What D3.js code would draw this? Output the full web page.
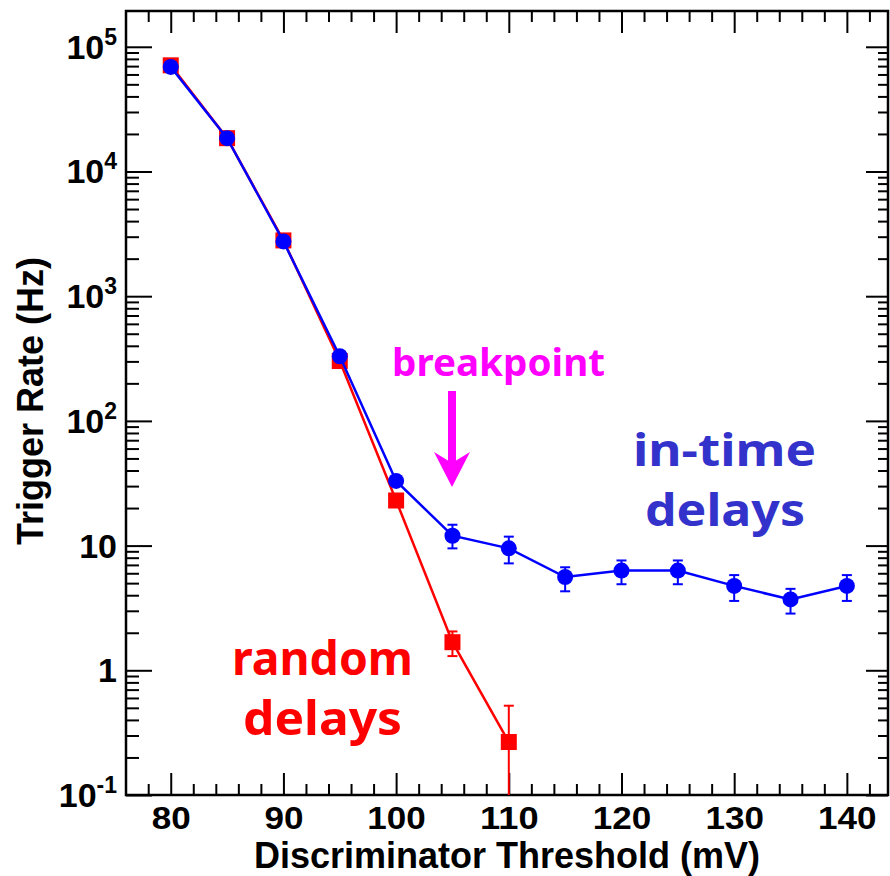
<!DOCTYPE html>
<html>
<head>
<meta charset="utf-8">
<script src="https://cdn.jsdelivr.net/npm/d3@7"></script>
<style>
  html, body { margin: 0; padding: 0; background: #fff; }
  svg { display: block; }
  .lbl { font-family: "Liberation Sans", Arial, Helvetica, sans-serif; font-weight: bold; }
  .ann { font-family: "Comic Sans MS", "Noto Sans", "DejaVu Sans", sans-serif; font-weight: bold; }
</style>
</head>
<body>
<script>
// ---------------- data ----------------
const thresholds = [80, 85, 90, 95, 100, 105, 110, 115, 120, 125, 130, 135, 140];
const inTimeRate = [6.9e4, 1.85e4, 2.75e3, 330, 33, 12.0, 9.5, 5.6, 6.3, 6.3, 4.75, 3.7, 4.75];
const inTimeLo   = [6.9e4, 1.85e4, 2.75e3, 330, 33, 9.5, 7.2, 4.3, 4.9, 4.9, 3.6, 2.85, 3.6];
const inTimeHi   = [6.9e4, 1.85e4, 2.75e3, 330, 33, 14.7, 11.8, 6.7, 7.6, 7.6, 5.8, 4.5, 5.8];

const randomThresholds = [80, 85, 90, 95, 100, 105, 110];
const randomRate = [7.1e4, 1.85e4, 2.8e3, 302, 23, 1.68, 0.266];
const randomLo   = [7.1e4, 1.85e4, 2.8e3, 302, 23, 1.3, 0.01];
const randomHi   = [7.1e4, 1.85e4, 2.8e3, 302, 23, 2.05, 0.52];

const xMajorTicks = [80, 90, 100, 110, 120, 130, 140];
const yDecades = [0.1, 1, 10, 100, 1e3, 1e4, 1e5];
const yTickBase = ["10", "1", "10", "10", "10", "10", "10"];
const yTickExp  = ["-1", "", "", "2", "3", "4", "5"];

const xTitle = "Discriminator Threshold (mV)";
const yTitle = "Trigger Rate (Hz)";

// ---------------- layout ----------------
const W = 890, H = 876;
const L = 126, R = 888, T = 11, B = 795;

const x = d3.scaleLinear().domain([76.03, 143.65]).range([L, R]);
const y = d3.scaleLog().domain([0.1, Math.pow(10, 5.287)]).range([B, T]);

const svg = d3.select("body").append("svg").attr("width", W).attr("height", H);

svg.append("defs").append("clipPath").attr("id", "plotclip")
  .append("rect").attr("x", L).attr("y", T).attr("width", R - L).attr("height", B - T);

// minor ticks
const xMinor = d3.range(78, 143, 2).filter(v => v % 10 !== 0);
const yMinor = [];
for (let d = 0.1; d < 1e5 * 2; d *= 10) {
  for (let k = 2; k <= 9; k++) { const v = d * k; if (v < y.domain()[1]) yMinor.push(v); }
}

function styleAxis(g) {
  g.select(".domain").remove();
  g.selectAll(".tick line").attr("stroke", "#000").attr("stroke-width", 2);
}

// bottom axis
svg.append("g").attr("transform", `translate(0,${B})`)
  .call(d3.axisBottom(x).tickValues(xMinor).tickSize(-11).tickFormat("")).call(styleAxis);
const xAx = svg.append("g").attr("transform", `translate(0,${B})`)
  .call(d3.axisBottom(x).tickValues(xMajorTicks).tickSize(-22).tickFormat(d3.format("d"))).call(styleAxis);
xAx.selectAll(".tick text").attr("class", "lbl").attr("y", 34).attr("dy", 0)
  .attr("font-size", 31).attr("fill", "#000")
  .attr("textLength", d => String(d).length * 19.5).attr("lengthAdjust", "spacingAndGlyphs");
// top axis
svg.append("g").attr("transform", `translate(0,${T})`)
  .call(d3.axisTop(x).tickValues(xMinor).tickSize(-11).tickFormat("")).call(styleAxis);
svg.append("g").attr("transform", `translate(0,${T})`)
  .call(d3.axisTop(x).tickValues(xMajorTicks).tickSize(-22).tickFormat("")).call(styleAxis);
// left axis
svg.append("g").attr("transform", `translate(${L},0)`)
  .call(d3.axisLeft(y).tickValues(yMinor).tickSize(-13).tickFormat("")).call(styleAxis);
svg.append("g").attr("transform", `translate(${L},0)`)
  .call(d3.axisLeft(y).tickValues(yDecades).tickSize(-26).tickFormat("")).call(styleAxis);
// right axis
svg.append("g").attr("transform", `translate(${R},0)`)
  .call(d3.axisRight(y).tickValues(yMinor).tickSize(-10).tickFormat("")).call(styleAxis);
svg.append("g").attr("transform", `translate(${R},0)`)
  .call(d3.axisRight(y).tickValues(yDecades).tickSize(-22).tickFormat("")).call(styleAxis);

// y tick labels with superscripts
yDecades.forEach((v, i) => {
  const t = svg.append("text").attr("class", "lbl").attr("text-anchor", "end")
    .attr("x", 117).attr("y", y(v) + 12).attr("font-size", 34).attr("fill", "#000");
  t.append("tspan").text(yTickBase[i]);
  if (yTickExp[i]) {
    t.append("tspan").attr("font-size", 23).attr("dy", -14).text(yTickExp[i]);
  }
});

// frame
svg.append("rect").attr("x", L).attr("y", T).attr("width", R - L).attr("height", B - T)
  .attr("fill", "none").attr("stroke", "#000").attr("stroke-width", 2.5);

// axis titles
svg.append("text").attr("class", "lbl").attr("x", (L + R) / 2).attr("y", 868)
  .attr("text-anchor", "middle").attr("font-size", 36).attr("fill", "#000").text(xTitle);
svg.append("text").attr("class", "lbl")
  .attr("transform", `translate(43,545) rotate(-90)`)
  .attr("text-anchor", "start").attr("font-size", 36).attr("fill", "#000").text(yTitle);

// ---------------- data layers ----------------
const plot = svg.append("g").attr("clip-path", "url(#plotclip)");

const red = "#ff0000", blue = "#0000ff";
const redData = randomThresholds.map((t, i) => ({ t, v: randomRate[i], lo: randomLo[i], hi: randomHi[i] }));
const blueData = thresholds.map((t, i) => ({ t, v: inTimeRate[i], lo: inTimeLo[i], hi: inTimeHi[i] }));

const line = d3.line().x(d => x(d.t)).y(d => y(d.v));

function errorBars(data, color) {
  const g = plot.append("g").attr("stroke", color).attr("stroke-width", 2);
  data.filter(d => d.hi > d.v * 1.001 || d.lo < d.v * 0.999).forEach(d => {
    const cx = x(d.t);
    g.append("line").attr("x1", cx).attr("x2", cx).attr("y1", y(Math.max(d.lo, 1e-3))).attr("y2", y(d.hi));
    g.append("line").attr("x1", cx - 5).attr("x2", cx + 5).attr("y1", y(d.hi)).attr("y2", y(d.hi));
    if (d.lo > 0.1) g.append("line").attr("x1", cx - 5).attr("x2", cx + 5).attr("y1", y(d.lo)).attr("y2", y(d.lo));
  });
}

// red series
plot.append("path").datum(redData).attr("d", line).attr("fill", "none")
  .attr("stroke", red).attr("stroke-width", 2.5);
errorBars(redData, red);
plot.append("g").selectAll("rect").data(redData).join("rect")
  .attr("x", d => x(d.t) - 8).attr("y", d => y(d.v) - 8)
  .attr("width", 16).attr("height", 16).attr("fill", red);

// blue series
plot.append("path").datum(blueData).attr("d", line).attr("fill", "none")
  .attr("stroke", blue).attr("stroke-width", 2.5);
errorBars(blueData, blue);
plot.append("g").selectAll("circle").data(blueData).join("circle")
  .attr("cx", d => x(d.t)).attr("cy", d => y(d.v)).attr("r", 8).attr("fill", blue);

// ---------------- annotations ----------------
svg.append("text").attr("class", "ann").attr("x", 392).attr("y", 376)
  .attr("font-size", 38).attr("fill", "#ff00ff")
  .attr("textLength", 213).attr("lengthAdjust", "spacingAndGlyphs").text("breakpoint");
svg.append("rect").attr("x", 448).attr("y", 391).attr("width", 8).attr("height", 72).attr("fill", "#ff00ff");
svg.append("path").attr("d", "M434,452 L452,487 L470,452 L452,463 Z").attr("fill", "#ff00ff");

svg.append("text").attr("class", "ann").attr("x", 633).attr("y", 466)
  .attr("font-size", 45).attr("fill", "#3333cc")
  .attr("textLength", 183).attr("lengthAdjust", "spacingAndGlyphs").text("in-time");
svg.append("text").attr("class", "ann").attr("x", 645).attr("y", 526)
  .attr("font-size", 45).attr("fill", "#3333cc")
  .attr("textLength", 160).attr("lengthAdjust", "spacingAndGlyphs").text("delays");

svg.append("text").attr("class", "ann").attr("x", 232).attr("y", 675)
  .attr("font-size", 47).attr("fill", red)
  .attr("textLength", 181).attr("lengthAdjust", "spacingAndGlyphs").text("random");
svg.append("text").attr("class", "ann").attr("x", 243).attr("y", 735)
  .attr("font-size", 47).attr("fill", red)
  .attr("textLength", 159).attr("lengthAdjust", "spacingAndGlyphs").text("delays");
</script>
</body>
</html>
